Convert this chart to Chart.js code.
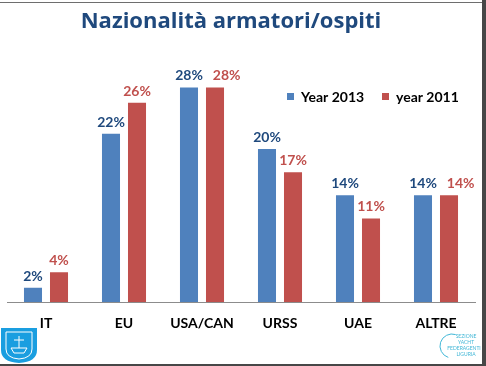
<!DOCTYPE html>
<html>
<head>
<meta charset="utf-8">
<script src="https://cdn.jsdelivr.net/npm/chart.js@4.4.1/dist/chart.umd.min.js"></script>
<style>
  html, body { margin: 0; padding: 0; background: #ffffff; }
  canvas { display: block; }
</style>
</head>
<body>
<canvas id="chart" width="486" height="366"></canvas>
<script>
const categories = ["IT", "EU", "USA/CAN", "URSS", "UAE", "ALTRE"];
const seriesNames = ["Year 2013", "year 2011"];
const values2013 = [2, 22, 28, 20, 14, 14];
const values2011 = [4, 26, 28, 17, 11, 14];
const titleText = "Nazionalità armatori/ospiti";

const blueBar = "#4f81bd";
const redBar = "#c0504d";
const blueText = "#1f497d";
const redText = "#c0504d";
const fontFamily = "Lato, 'Open Sans', sans-serif";

// frame, title, legend, value labels and logos drawn straight on the canvas
const slideDecor = {
  id: "slideDecor",
  afterDraw(chart) {
    const ctx = chart.ctx;
    ctx.save();

    // slide frame
    ctx.fillStyle = "#6e6e6e";
    ctx.fillRect(0, 2, 482, 1);
    ctx.fillStyle = "#474747";
    ctx.fillRect(482, 0, 4, 366);
    ctx.fillRect(0, 364, 486, 2);

    // title
    ctx.fillStyle = blueText;
    ctx.font = "bold 22px 'Open Sans', sans-serif";
    ctx.textAlign = "center";
    ctx.textBaseline = "alphabetic";
    ctx.fillText(titleText, 231, 28);

    // legend
    ctx.font = "bold 14px " + fontFamily;
    ctx.textAlign = "left";
    ctx.textBaseline = "middle";
    const legendX = [287, 382];
    chart.data.datasets.forEach((ds, i) => {
      ctx.fillStyle = ds.backgroundColor;
      ctx.fillRect(legendX[i], 93, 7, 7);
      ctx.fillStyle = "#000000";
      ctx.fillText(ds.label, legendX[i] + 14, 97);
    });

    // value labels above bars; second label pushed right when they collide
    ctx.textAlign = "center";
    ctx.textBaseline = "alphabetic";
    ctx.font = "bold 14px " + fontFamily;
    const first = chart.getDatasetMeta(0).data;
    const second = chart.getDatasetMeta(1).data;
    categories.forEach((c, j) => {
      const t1 = values2013[j] + "%";
      const t2 = values2011[j] + "%";
      const w1 = ctx.measureText(t1).width;
      const w2 = ctx.measureText(t2).width;
      let x2 = second[j].x;
      if (Math.abs(first[j].y - second[j].y) < 14) {
        const minX = first[j].x + w1 / 2 + 10 + w2 / 2;
        if (x2 < minX) x2 = minX;
      }
      ctx.fillStyle = blueText;
      ctx.fillText(t1, first[j].x, first[j].y - 6);
      ctx.fillStyle = redText;
      ctx.fillText(t2, x2, second[j].y - 6);
    });

    // left logo (shield)
    ctx.fillStyle = "#1a9ee0";
    ctx.beginPath();
    ctx.moveTo(1, 328);
    ctx.lineTo(37, 328);
    ctx.lineTo(37, 350);
    ctx.quadraticCurveTo(37, 362, 19, 363);
    ctx.quadraticCurveTo(1, 362, 1, 350);
    ctx.closePath();
    ctx.fill();
    ctx.strokeStyle = "#ffffff";
    ctx.lineWidth = 1;
    ctx.beginPath();
    ctx.moveTo(6, 332);
    ctx.lineTo(32, 332);
    ctx.lineTo(32, 349);
    ctx.quadraticCurveTo(32, 358, 19, 359);
    ctx.quadraticCurveTo(6, 358, 6, 349);
    ctx.closePath();
    ctx.stroke();
    ctx.beginPath();
    ctx.moveTo(11, 348);
    ctx.lineTo(27, 348);
    ctx.lineTo(24, 353);
    ctx.lineTo(14, 353);
    ctx.closePath();
    ctx.moveTo(19, 336);
    ctx.lineTo(19, 348);
    ctx.moveTo(14, 340);
    ctx.lineTo(24, 340);
    ctx.stroke();

    // right logo (text mark)
    ctx.strokeStyle = "#3fb6d6";
    ctx.beginPath();
    ctx.ellipse(452, 346, 12, 12, 0, 0.6 * Math.PI, 1.6 * Math.PI);
    ctx.stroke();
    ctx.fillStyle = "#3fb6d6";
    ctx.font = "5px " + fontFamily;
    ctx.textAlign = "center";
    ctx.textBaseline = "middle";
    ctx.fillText("SEZIONE", 466, 336);
    ctx.fillText("YACHT", 466, 342);
    ctx.fillText("FEDERAGENTI", 464, 348);
    ctx.fillText("LIGURIA", 466, 354);

    ctx.restore();
  }
};

new Chart(document.getElementById("chart"), {
  type: "bar",
  data: {
    labels: categories,
    datasets: [
      {
        label: seriesNames[0],
        data: values2013,
        backgroundColor: blueBar,
        borderColor: "rgba(255,255,255,0.45)",
        borderWidth: 1,
        categoryPercentage: 0.667,
        barPercentage: 0.77
      },
      {
        label: seriesNames[1],
        data: values2011,
        backgroundColor: redBar,
        borderColor: "rgba(255,255,255,0.45)",
        borderWidth: 1,
        categoryPercentage: 0.667,
        barPercentage: 0.77
      }
    ]
  },
  options: {
    responsive: false,
    animation: false,
    layout: {
      padding: { left: 7, right: 11, top: 71, bottom: 29 }
    },
    plugins: {
      legend: { display: false },
      title: { display: false },
      tooltip: { enabled: false }
    },
    scales: {
      x: {
        grid: { display: false },
        border: { display: true, color: "#8c8c8c", width: 1 },
        ticks: {
          color: "#000000",
          padding: 5,
          font: { family: fontFamily, size: 14, weight: "bold" }
        }
      },
      y: {
        display: false,
        min: 0,
        max: 30
      }
    }
  },
  plugins: [slideDecor]
});
</script>
</body>
</html>
